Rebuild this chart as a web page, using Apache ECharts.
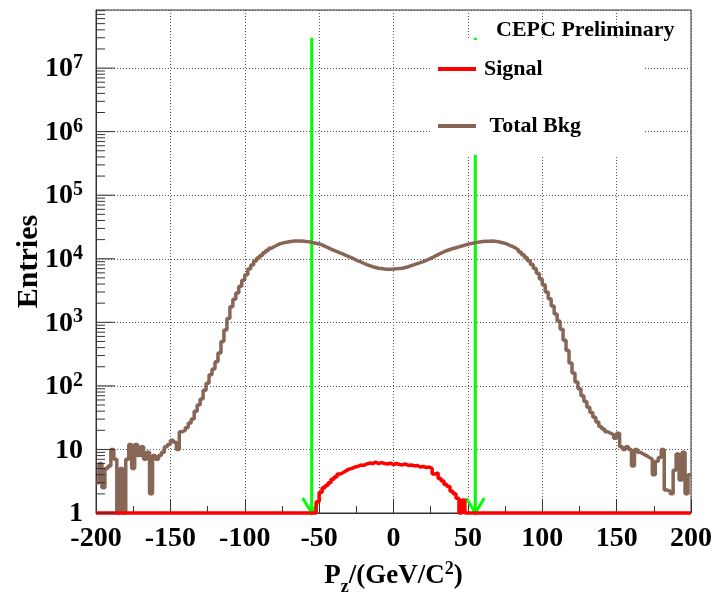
<!DOCTYPE html>
<html><head><meta charset="utf-8">
<script src="https://cdn.jsdelivr.net/npm/echarts@6/dist/echarts.min.js"></script>
<style>html,body{margin:0;padding:0;background:#fff}#c{width:716px;height:592px}</style>
</head><body><div id="c"></div>
<script>
// ---- data ----
const xMin = -200, xMax = 200, binWidth = 2;
const yMin = 1, yMax = 8.2e7;
const xTickValues = [-200, -150, -100, -50, 0, 50, 100, 150, 200];
const yDecades = [1, 10, 100, 1e3, 1e4, 1e5, 1e6, 1e7];
const bkgValues = [
  3, 6, 2.5, 5, 5.5, 10, 7, 1, 5, 1,
  7, 12, 5, 12, 8, 11, 7, 9, 2, 8,
  7, 8, 9, 11, 12, 14, 13, 10, 19, 20,
  22, 26, 30, 40, 50, 62, 85, 110, 150, 185,
  240, 330, 500, 760, 1150, 1750, 2300, 2900, 3700, 4600,
  5600, 6900, 8000, 9200, 10300, 11300, 12400, 13500, 14700, 15600,
  16500, 17300, 17800, 18200, 18500, 18800, 19000, 19100, 19100, 18900,
  18600, 18300, 17900, 17500, 17100, 16500, 15700, 15000, 14200, 13600,
  13000, 12400, 11900, 11300, 10800, 10300, 9800, 9300, 8900, 8500,
  8100, 7800, 7500, 7300, 7100, 7000, 6900, 6850, 6850, 6900,
  6950, 7000, 7100, 7300, 7500, 7800, 8100, 8400, 8700, 9000,
  9400, 9900, 10400, 11000, 11600, 12300, 12900, 13500, 14000, 14500,
  14900, 15400, 15900, 16400, 16900, 17300, 17700, 18100, 18400, 18700,
  18800, 18900, 19000, 18900, 18600, 18200, 17700, 17100, 16300, 15600,
  14800, 13800, 12800, 11600, 10500, 9300, 8100, 7000, 5900, 4800,
  3900, 3000, 2350, 1800, 1350, 1050, 780, 520, 360, 230,
  160, 115, 90, 70, 57, 46, 38, 32, 27, 23,
  21, 19, 18, 17, 15, 18, 11, 10, 11, 10,
  5.5, 10, 9, 8.5, 8, 7.5, 7, 4, 6.5, 7.5,
  10, 2.3, 2.2, 2, 4.7, 8.5, 3.3, 9, 2, 4
];
const sigValues = [
  0, 0, 0, 0, 0, 0, 0, 0, 0, 0,
  0, 0, 0, 0, 0, 0, 0, 0, 0, 0,
  0, 0, 0, 0, 0, 0, 0, 0, 0, 0,
  0, 0, 0, 0, 0, 0, 0, 0, 0, 0,
  0, 0, 0, 0, 0, 0, 0, 0, 0, 0,
  0, 0, 0, 0, 0, 0, 0, 0, 0, 0,
  0, 0, 0, 0, 0, 0, 0, 0, 0, 0,
  0, 0, 0, 0, 1.5, 2.1, 2.5, 2.7, 3.0, 3.4,
  3.7, 4.1, 4.3, 4.6, 4.9, 5.0, 5.3, 5.4, 5.7, 5.6,
  5.9, 6.1, 6.0, 6.3, 6.0, 6.2, 6.0, 5.9, 6.1, 5.8,
  6.0, 5.8, 5.7, 5.9, 5.6, 5.7, 5.5, 5.6, 5.3, 5.4,
  5.2, 5.3, 5.0, 4.1, 4.3, 3.5, 3.2, 2.8, 2.6, 2.2,
  2.0, 1.7, 0, 1.6, 0, 0, 0, 0, 0, 0,
  0, 0, 0, 0, 0, 0, 0, 0, 0, 0,
  0, 0, 0, 0, 0, 0, 0, 0, 0, 0,
  0, 0, 0, 0, 0, 0, 0, 0, 0, 0,
  0, 0, 0, 0, 0, 0, 0, 0, 0, 0,
  0, 0, 0, 0, 0, 0, 0, 0, 0, 0,
  0, 0, 0, 0, 0, 0, 0, 0, 0, 0,
  0, 0, 0, 0, 0, 0, 0, 0, 0, 0
];
const cutValues = [-55, 55];
const cutTop = 3e7;
const seriesNames = ['Signal', 'Total Bkg'];

// ---- build ----
const FONT = '"Liberation Serif", "Times New Roman", serif';
function histPoints(vals) {
  const pts = vals.map((v, i) => [xMin + i * binWidth, Math.max(v, yMin)]);
  pts.push([xMax, Math.max(vals[vals.length - 1], yMin)]);
  return pts;
}
const yTicks = [];
yDecades.forEach(d => {
  for (let m = 1; m <= 9; m++) {
    const v = d * m;
    if (v <= yMax) yTicks.push([xMin, v, m === 1 ? 1 : 0]);
  }
});

const chart = echarts.init(document.getElementById('c'), null, {renderer: 'canvas'});
chart.setOption({
  animation: false,
  backgroundColor: '#fff',
  grid: {left: 96, right: 25, top: 10, bottom: 79, outerBoundsMode: 'none', containLabel: false,
         show: true, borderColor: '#333', borderWidth: 1, backgroundColor: 'transparent'},
  title: {
    text: 'CEPC Preliminary', left: 491, top: 14,
    textStyle: {fontFamily: FONT, fontWeight: 'bold', fontSize: 22, color: '#000'}
  },
  legend: {
    data: seriesNames, orient: 'vertical', left: 430, top: 40,
    padding: [17, 63, 17, 8], itemGap: 33, backgroundColor: '#fff',
    icon: 'rect', itemWidth: 38, itemHeight: 4, selectedMode: false,
    formatter: n => n === 'Total Bkg' ? ' ' + n : n,
    textStyle: {fontFamily: FONT, fontWeight: 'bold', fontSize: 22, lineHeight: 24, color: '#000', padding: [0, 0, 0, 3]}
  },
  xAxis: {
    type: 'value', min: xMin, max: xMax, interval: 50,
    name: '{b|P}{s|z}{b|/(GeV/C}{p|2}{b|)}', nameLocation: 'middle', nameGap: 47, nameMoveOverlap: false,
    nameTextStyle: {rich: {
      b: {fontFamily: FONT, fontWeight: 'bold', fontSize: 27, color: '#000', lineHeight: 30, verticalAlign: 'bottom'},
      s: {fontFamily: FONT, fontWeight: 'bold', fontSize: 18, color: '#000', lineHeight: 30, verticalAlign: 'bottom', padding: [0, 0, -6, 0]},
      p: {fontFamily: FONT, fontWeight: 'bold', fontSize: 18, color: '#000', lineHeight: 30, verticalAlign: 'top'}
    }},
    axisLine: {show: true, onZero: false, lineStyle: {color: '#333', width: 1}},
    axisTick: {show: true, inside: true, length: 14, lineStyle: {color: '#333', width: 1}},
    minorTick: {show: true, splitNumber: 2, length: 7, lineStyle: {color: '#333', width: 1}},
    axisLabel: {margin: 12, fontFamily: FONT, fontWeight: 'bold', fontSize: 28, color: '#000'},
    splitLine: {show: true, lineStyle: {color: '#555', width: 1, type: [1, 2]}}
  },
  yAxis: {
    type: 'log', logBase: 10, min: yMin, max: yMax, splitNumber: 8,
    name: 'Entries', nameLocation: 'middle', nameGap: 52, nameRotate: 90, nameMoveOverlap: false,
    nameTextStyle: {fontFamily: FONT, fontWeight: 'bold', fontSize: 30, color: '#000'},
    axisLine: {show: true, onZero: false, lineStyle: {color: '#333', width: 1}},
    axisTick: {show: false},
    axisLabel: {
      margin: 13, fontFamily: FONT, fontWeight: 'bold', fontSize: 28, color: '#000',
      formatter: v => {
        const k = Math.round(Math.log10(v));
        if (Math.abs(v - Math.pow(10, k)) > 1e-6 * v) return '';
        if (k === 0) return '{b|1}';
        if (k === 1) return '{b|10}';
        return '{b|10}{p|' + k + '}';
      },
      rich: {
        b: {fontFamily: FONT, fontWeight: 'bold', fontSize: 28, color: '#000', lineHeight: 30, verticalAlign: 'bottom'},
        p: {fontFamily: FONT, fontWeight: 'bold', fontSize: 20, color: '#000', lineHeight: 30, verticalAlign: 'top'}
      }
    },
    splitLine: {show: true, lineStyle: {color: '#555', width: 1, type: [1, 2]}}
  },
  series: [
    {
      name: 'Total Bkg', type: 'line', step: 'end', data: histPoints(bkgValues),
      showSymbol: false, clip: false, color: '#876656',
      lineStyle: {color: '#876656', width: 3.5}, z: 3
    },
    {
      name: 'Signal', type: 'line', step: 'end', data: histPoints(sigValues),
      showSymbol: false, clip: false, color: '#ff0000',
      lineStyle: {color: '#ff0000', width: 3.5}, z: 3
    },
    {
      name: 'cuts', type: 'custom', clip: false, z: 3,
      encode: {x: 0, y: 1},
      data: cutValues.map(c => [c, cutTop, yMin]),
      renderItem: (params, api) => {
        const top = api.coord([api.value(0), api.value(1)]);
        const bot = api.coord([api.value(0), api.value(2)]);
        const st = {stroke: '#00ff00', lineWidth: 3, fill: null};
        return {type: 'group', children: [
          {type: 'line', shape: {x1: top[0], y1: top[1], x2: bot[0], y2: bot[1]}, style: st},
          {type: 'polyline', shape: {points: [[bot[0] - 9, bot[1] - 15], [bot[0], bot[1]], [bot[0] + 9, bot[1] - 15]]}, style: st}
        ]};
      }
    },
    {
      name: 'yticks', type: 'custom', clip: false, z: 4, silent: true,
      encode: {x: 0, y: 1},
      data: yTicks,
      renderItem: (params, api) => {
        const p = api.coord([api.value(0), api.value(1)]);
        const len = api.value(2) ? 19 : 9;
        return {type: 'line', shape: {x1: p[0], y1: p[1], x2: p[0] + len, y2: p[1]}, style: {stroke: '#333', lineWidth: 1}};
      }
    }
  ]
});
</script></body></html>
